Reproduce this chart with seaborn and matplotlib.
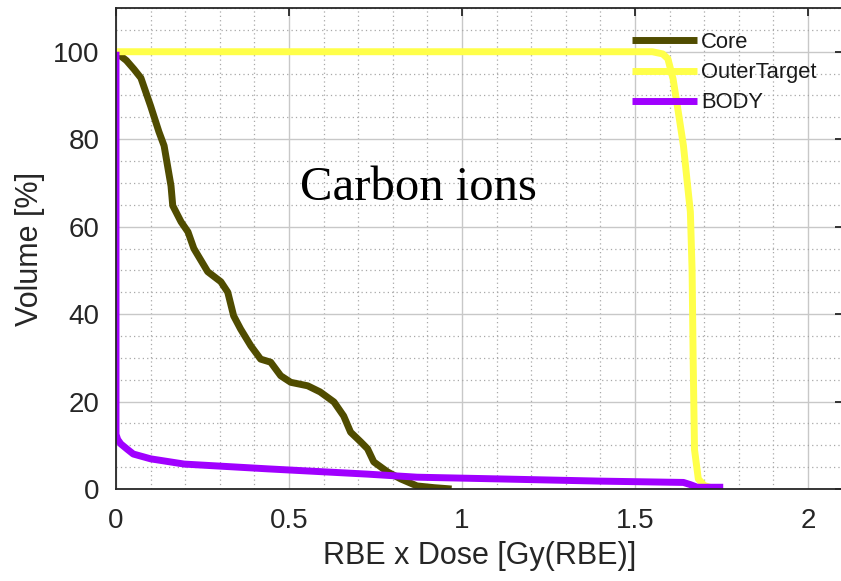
import numpy as np
import pandas as pd
import matplotlib
matplotlib.use("Agg")
import matplotlib.pyplot as plt
import seaborn as sns
from matplotlib.ticker import MultipleLocator
from matplotlib.lines import Line2D

# ---- data ----
core_x = [0.006, 0.03, 0.052, 0.072, 0.10, 0.124, 0.139, 0.159, 0.164, 0.188, 0.208, 0.225,
          0.265, 0.303, 0.323, 0.34, 0.36, 0.39, 0.418, 0.447, 0.476, 0.505, 0.554, 0.59,
          0.63, 0.658, 0.678, 0.707, 0.727, 0.745, 0.785, 0.823, 0.87, 0.92, 0.97]
core_y = [99.5, 98, 96, 94, 87.6, 81.7, 78.5, 69.3, 64.8, 61.1, 58.8, 55,
          49.7, 47.4, 45, 39.6, 36.6, 32.7, 29.7, 29, 25.9, 24.4, 23.6, 22.2,
          19.9, 16.7, 13, 10.8, 9.2, 6.2, 3.9, 2.3, 0.7, 0.3, 0]

outer_x = [0, 1.55, 1.58, 1.595, 1.61, 1.625, 1.64, 1.65, 1.66, 1.665, 1.668, 1.672,
           1.683, 1.70, 1.72, 1.74]
outer_y = [100, 100, 99.5, 98.4, 93.8, 86.3, 78.5, 70.9, 63.4, 50, 30, 9,
           2.3, 0.8, 0.3, 0]

body_x = [0, 0, 0.005, 0.014, 0.034, 0.05, 0.1, 0.197, 0.44, 0.727, 0.87, 1.11, 1.4,
          1.64, 1.66, 1.68, 1.755]
body_y = [100, 12.5, 11.3, 10.3, 9.0, 8.0, 6.9, 5.7, 4.6, 3.4, 2.7, 2.3, 1.8,
          1.5, 1.0, 0.4, 0.4]

structures = ["Core", "OuterTarget", "BODY"]
colors = {"Core": "#504c00", "OuterTarget": "#ffff4a", "BODY": "#a000ff"}

x_ticks = [0, 0.5, 1, 1.5, 2]
x_tick_labels = ["0", "0.5", "1", "1.5", "2"]
y_ticks = [0, 20, 40, 60, 80, 100]

frames = []
for name, xs, ys in [("Core", core_x, core_y), ("OuterTarget", outer_x, outer_y),
                     ("BODY", body_x, body_y)]:
    d = pd.DataFrame({"dose": xs, "volume": ys})
    d["structure"] = name
    frames.append(d)
df = pd.concat(frames, ignore_index=True)

sns.set_style("white")
plt.rcParams["font.family"] = ["Liberation Sans", "DejaVu Sans"]

fig = plt.figure(figsize=(8.41, 5.81), dpi=100)
ax = fig.add_axes([116 / 841, 1 - 489 / 581, 726.6 / 841, 481 / 581])

sns.lineplot(data=df, x="dose", y="volume", hue="structure", hue_order=structures,
             palette=colors, sort=False, estimator=None, units="structure",
             linewidth=5, ax=ax, legend=False)
for ln in ax.get_lines():
    ln.set_solid_capstyle("butt")
    ln.set_solid_joinstyle("round")

ax.set_xlim(0, 2.1)
ax.set_ylim(0, 110)
ax.set_xticks(x_ticks)
ax.set_xticklabels(x_tick_labels)
ax.set_yticks(y_ticks)
ax.xaxis.set_minor_locator(MultipleLocator(0.1))
ax.yaxis.set_minor_locator(MultipleLocator(5))
ax.grid(which="major", color="#c8c8c8", linewidth=1.0, linestyle="-")
ax.grid(which="minor", color="#a8a8a8", linewidth=0.9, linestyle=(0, (1, 2.5)))
ax.set_axisbelow(True)

for sp in ax.spines.values():
    sp.set_visible(True)
    sp.set_color("#262626")
    sp.set_linewidth(1.3)

ax.tick_params(which="major", direction="in", length=6, width=1.3, color="#262626",
               top=True, right=True, labelsize=20, labelcolor="#262626", pad=14)
ax.tick_params(which="minor", length=0)
ax.tick_params(axis="y", pad=12)

ax.set_xlabel("RBE x Dose [Gy(RBE)]", fontsize=22, color="#262626")
ax.set_ylabel("Volume [%]", fontsize=22, color="#262626")
ax.xaxis.set_label_coords(0.5, -0.108)
ax.yaxis.set_label_coords(-0.098, 0.5)

ax.text(0.873, 66.1, "Carbon ions", fontsize=35, family=["Liberation Serif", "DejaVu Serif"],
        ha="center", va="baseline", color="black")

handles = [Line2D([], [], color=colors[s], linewidth=5, solid_capstyle="butt") for s in structures]
leg = ax.legend(handles, structures, loc="upper left", bbox_to_anchor=(0.71, 0.95),
                frameon=False, fontsize=15.8, handlelength=2.95, handletextpad=0.2,
                labelspacing=0.42, borderpad=0, borderaxespad=0)
for t in leg.get_texts():
    t.set_color("#1a1a1a")

fig.savefig("out.png", dpi=100)
